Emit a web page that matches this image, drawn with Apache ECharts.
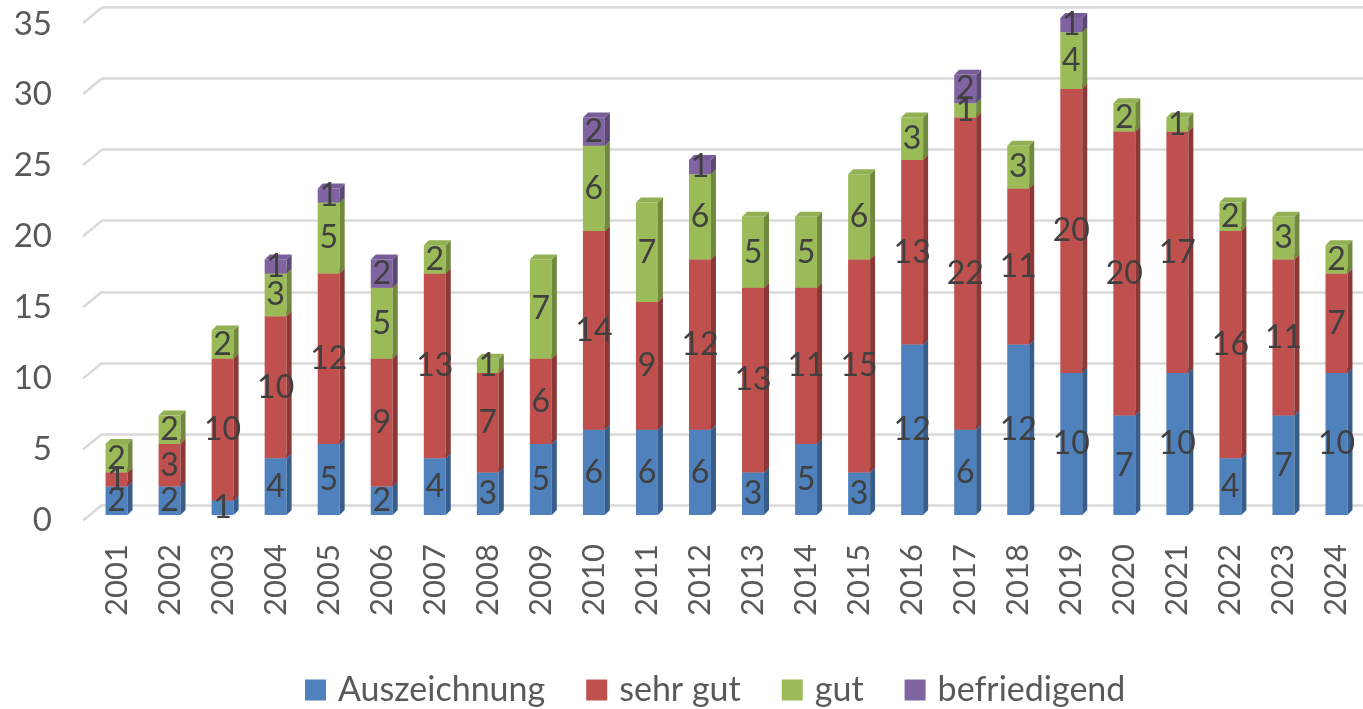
<!DOCTYPE html>
<html>
<head>
<meta charset="utf-8">
<script src="https://cdn.jsdelivr.net/npm/echarts@6/dist/echarts.min.js"></script>
<style>
html,body{margin:0;padding:0;background:#fff;}
#chart{width:1363px;height:709px;}
</style>
</head>
<body>
<div id="chart"></div>
<script>
const years = ['2001','2002','2003','2004','2005','2006','2007','2008','2009','2010','2011','2012','2013','2014','2015','2016','2017','2018','2019','2020','2021','2022','2023','2024'];
const auszeichnung = [2,2,1,4,5,2,4,3,5,6,6,6,3,5,3,12,6,12,10,7,10,4,7,10];
const sehrGut      = [1,3,10,10,12,9,13,7,6,14,9,12,13,11,15,13,22,11,20,20,17,16,11,7];
const gut          = [2,2,2,3,5,5,2,1,7,6,7,6,5,5,6,3,1,3,4,2,1,2,3,2];
const befriedigend = [0,0,0,1,1,2,0,0,0,2,0,1,0,0,0,0,2,0,1,0,0,0,0,0];
const seriesNames = ['Auszeichnung','sehr gut','gut','befriedigend'];
const yTicks = [0,5,10,15,20,25,30,35];

const FONT = 'Lato';
const faces = [
  {front:'#4F81BD', side:'#385D8A', top:'#4A7AB3'},
  {front:'#C0504D', side:'#8C3836', top:'#B44B48'},
  {front:'#9BBB59', side:'#71893F', top:'#92B054'},
  {front:'#8064A2', side:'#5C4876', top:'#785E98'}
];

const valuesList = [auszeichnung, sehrGut, gut, befriedigend];
const bases = years.map(() => 0);
const stackedData = valuesList.map(vals => vals.map((v, i) => {
  const b = bases[i];
  bases[i] += v;
  return [i, b, b + v, v];
}));

function makeRender(si) {
  const c = faces[si];
  return function (params, api) {
    const val = api.value(3);
    if (!val) return null;
    const x = api.value(0);
    const p0 = api.coord([x, api.value(1)]);
    const p1 = api.coord([x, api.value(2)]);
    const band = api.size([1, 0])[0];
    const w = band * 0.414;
    const d = 5, dy = 5;
    const xl = p0[0] - w / 2, xr = p0[0] + w / 2;
    const yb = p0[1], yt = p1[1];
    return {
      type: 'group',
      children: [
        {type:'rect', shape:{x:xl, y:yt, width:w, height:yb-yt}, style:{fill:c.front}},
        {type:'polygon', shape:{points:[[xr,yb],[xr+d,yb-dy],[xr+d,yt-dy],[xr,yt]]}, style:{fill:c.side}},
        {type:'polygon', shape:{points:[[xl,yt],[xl+d,yt-dy],[xr+d,yt-dy],[xr,yt]]}, style:{fill:c.top}},
        {type:'text', z2:100, style:{text:String(val), x:p0[0], y:(yb+yt)/2, align:'center', verticalAlign:'middle', fontSize:32, fontFamily:FONT, fill:'#404040'}}
      ]
    };
  };
}

const chart = echarts.init(document.getElementById('chart'), null, {renderer:'canvas'});
const option = {
  animation: false,
  backgroundColor: '#fff',
  grid: [
    {left:90, width:1275, top:18, height:497},
    {left:102, width:1261, top:7.5, height:497.5},
    {left:83, width:10, top:24, height:496}
  ],
  xAxis: [
    {gridIndex:0, type:'category', data:years, axisLine:{show:false}, axisTick:{show:false},
     axisLabel:{rotate:90, margin:29, fontSize:31, fontFamily:FONT, color:'#595959', interval:0}},
    {gridIndex:1, type:'value', min:0, max:1, show:false},
    {gridIndex:2, type:'value', min:0, max:1, show:false}
  ],
  yAxis: [
    {gridIndex:0, type:'value', min:0, max:35, interval:5, axisLabel:{show:false}, axisLine:{show:false}, axisTick:{show:false}, splitLine:{show:false}},
    {gridIndex:1, type:'value', min:0, max:35, interval:5, axisLabel:{show:false}, axisLine:{show:false}, axisTick:{show:false},
     splitLine:{show:true, lineStyle:{color:'#D9D9D9', width:2.5}}},
    {gridIndex:2, type:'value', min:0, max:35, interval:5, axisLine:{show:false}, axisTick:{show:false}, splitLine:{show:false},
     axisLabel:{margin:31, fontSize:33, fontFamily:FONT, color:'#595959'}}
  ],
  legend: {
    left: 300, top: 668, itemWidth: 21, itemHeight: 21, itemGap: 41, icon: 'rect',
    textStyle: {fontSize:34, fontFamily:FONT, color:'#595959', padding:[0,0,0,7]},
    data: seriesNames
  },
  series: [
    {
      type:'custom', name:'grid-diag', xAxisIndex:1, yAxisIndex:1, silent:true,
      data: yTicks.map(v => [0, v]),
      renderItem: function (params, api) {
        const p = api.coord([0, api.value(1)]);
        return {type:'line', shape:{x1:p[0]-19, y1:p[1]+15.5, x2:p[0], y2:p[1]}, style:{stroke:'#D9D9D9', lineWidth:2.5}};
      }
    }
  ].concat(seriesNames.map((name, si) => ({
    type:'custom', name:name, xAxisIndex:0, yAxisIndex:0,
    itemStyle:{color:faces[si].front},
    data: stackedData[si],
    encode: {x:0, y:[1,2]},
    renderItem: makeRender(si)
  })))
};
chart.setOption(option);
</script>
</body>
</html>
